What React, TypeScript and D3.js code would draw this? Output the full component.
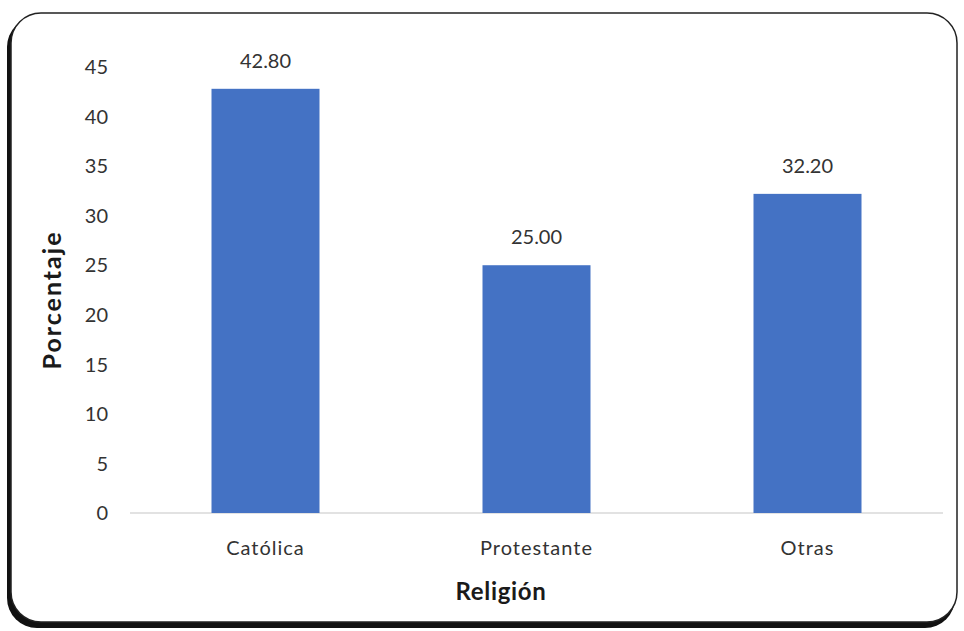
import React from "react";
import * as d3 from "d3";

const categories = ["Católica", "Protestante", "Otras"];
const values = [42.8, 25.0, 32.2];
const yTicks = [0, 5, 10, 15, 20, 25, 30, 35, 40, 45];
const yTitle = "Porcentaje";
const xTitle = "Religión";

const W = 964;
const H = 631;
const FONT = "Lato, 'Open Sans', sans-serif";

export default function App() {
  const x = d3.scaleBand<string>().domain(categories).range([130, 943]).paddingInner(0.6).paddingOuter(0.3);
  const y = d3.scaleLinear().domain([0, 45]).range([513, 67]);
  const bw = 108;
  return (
    <svg width={W} height={H} style={{ position: "absolute", left: 0, top: 0, background: "#fff" }}>
      <rect x={7} y={17} width={948} height={611} rx={30} ry={30} fill="#111" />
      <rect x={11} y={13} width={946} height={609} rx={30} ry={30} fill="#fff" stroke="#222" strokeWidth={1.5} />
      <line x1={130} x2={943} y1={y(0)} y2={y(0)} stroke="#d9d9d9" strokeWidth={1.3} />
      {yTicks.map((t) => (
        <text key={t} x={108} y={y(t)} dy="0.36em" textAnchor="end" fontFamily={FONT} fontSize={20} fill="#333">
          {t}
        </text>
      ))}
      {categories.map((c, i) => {
        const cx = (x(c) as number) + x.bandwidth() / 2;
        return (
          <g key={c}>
            <rect x={cx - bw / 2} y={y(values[i])} width={bw} height={y(0) - y(values[i])} fill="#4472c4" />
            <text x={cx} y={y(values[i]) - 21} textAnchor="middle" fontFamily={FONT} fontSize={20} fill="#333">
              {values[i].toFixed(2)}
            </text>
            <text x={cx} y={555} textAnchor="middle" fontFamily={FONT} fontSize={20} letterSpacing={1} fill="#333">
              {c}
            </text>
          </g>
        );
      })}
      <text x={501} y={600} textAnchor="middle" fontFamily={FONT} fontSize={24} letterSpacing={0.7} fontWeight="bold" fill="#1a1a1a">
        {xTitle}
      </text>
      <text transform={`translate(61,300) rotate(-90)`} textAnchor="middle" fontFamily={FONT} fontSize={25} letterSpacing={2} fontWeight="bold" fill="#1a1a1a">
        {yTitle}
      </text>
    </svg>
  );
}
